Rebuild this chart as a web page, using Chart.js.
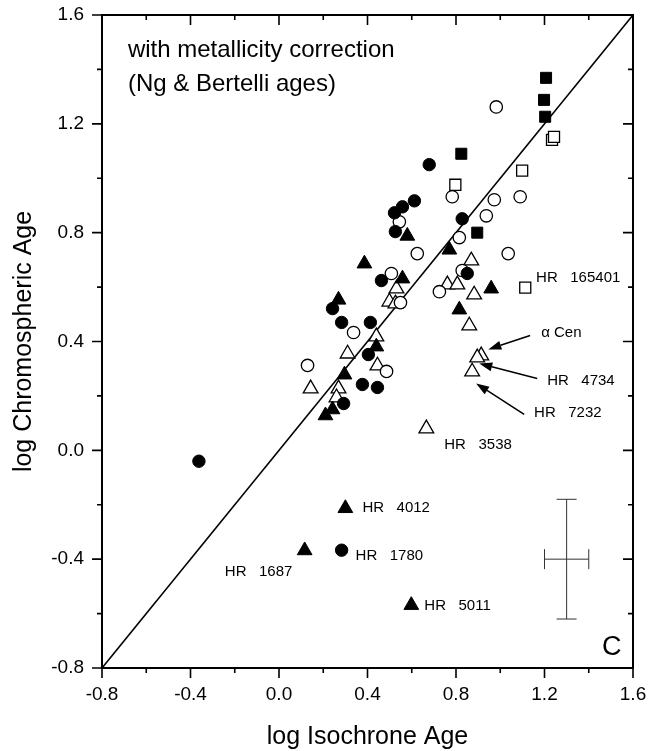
<!DOCTYPE html>
<html>
<head>
<meta charset="utf-8">
<script src="https://cdn.jsdelivr.net/npm/chart.js@4.4.0/dist/chart.umd.min.js"></script>
<style>
  html, body { margin: 0; padding: 0; background: #fff; }
  #wrap { width: 649px; height: 751px; }
</style>
</head>
<body>
<div id="wrap"><canvas id="chart" width="649" height="751"></canvas></div>
<script>
// ─ data points: [log isochrone age, log chromospheric age]
const filledSquares = [[1.207, 1.369], [1.198, 1.288], [1.203, 1.226], [0.824, 1.090], [0.896, 0.800]];
const openSquares = [[1.234, 1.141], [1.243, 1.152], [1.099, 1.028], [0.797, 0.976], [1.113, 0.598]];
const filledCircles = [
    [0.679, 1.050], [0.612, 0.917], [0.558, 0.895], [0.522, 0.873], [0.526, 0.804],
    [0.828, 0.851], [0.463, 0.624], [0.851, 0.650], [0.242, 0.521], [0.283, 0.470],
    [0.413, 0.470], [0.404, 0.352], [0.377, 0.242], [0.445, 0.231], [0.292, 0.172],
    [-0.362, -0.040], [0.283, -0.367]
];
const openCircles = [
    [0.982, 1.262], [0.783, 0.932], [0.973, 0.921], [1.090, 0.932], [0.937, 0.862],
    [0.815, 0.782], [0.544, 0.840], [0.625, 0.723], [1.036, 0.723], [0.508, 0.650],
    [0.828, 0.661], [0.725, 0.583], [0.549, 0.543], [0.337, 0.433], [0.129, 0.312],
    [0.486, 0.290]
];
const filledTriangles = [
    [0.580, 0.788], [0.770, 0.737], [0.386, 0.686], [0.558, 0.631], [0.959, 0.594],
    [0.815, 0.517], [0.269, 0.553], [0.440, 0.381], [0.296, 0.278], [0.242, 0.150],
    [0.210, 0.128], [0.300, -0.213], [0.116, -0.368], [0.598, -0.569]
];
const openTriangles = [
    [0.869, 0.697], [0.761, 0.609], [0.806, 0.609], [0.882, 0.572], [0.860, 0.458],
    [0.914, 0.348], [0.896, 0.341], [0.873, 0.289], [0.531, 0.594], [0.499, 0.546],
    [0.526, 0.539], [0.440, 0.418], [0.310, 0.355], [0.445, 0.311], [0.143, 0.227],
    [0.269, 0.227], [0.260, 0.194], [0.666, 0.080]
];

// y = x reference line
const diagLine = [[-0.8, -0.8], [1.6, 1.6]];

// typical error bar: centre and half widths
const errCenter = [1.30, -0.40];
const errHalf = [0.10, 0.22];

// axis ticks
const axisMin = -0.8;
const axisMax = 1.6;
const majorTicks = [-0.8, -0.4, 0.0, 0.4, 0.8, 1.2, 1.6];
const minorTicks = [-0.6, -0.2, 0.2, 0.6, 1.0, 1.4];

// star labels (data coords of text start / baseline)
const starLabels = [
    { text: 'HR   165401', x: 1.162, y: 0.617 },
    { text: '\u03b1 Cen', x: 1.185, y: 0.418 },
    { text: 'HR   4734', x: 1.212, y: 0.239 },
    { text: 'HR   7232', x: 1.153, y: 0.121 },
    { text: 'HR   3538', x: 0.747, y: 0.004 },
    { text: 'HR   4012', x: 0.377, y: -0.228 },
    { text: 'HR   1780', x: 0.346, y: -0.404 },
    { text: 'HR   1687', x: -0.245, y: -0.462 },
    { text: 'HR   5011', x: 0.657, y: -0.587 }
];

// arrows: tail -> head
const arrows = [
    { from: [1.135, 0.422], to: [0.946, 0.371] },
    { from: [1.167, 0.264], to: [0.905, 0.319] },
    { from: [1.108, 0.132], to: [0.891, 0.246] }
];

const noteLines = ['with metallicity correction', '(Ng & Bertelli ages)'];
const panelLetter = 'C';

const toXY = arr => arr.map(p => ({ x: p[0], y: p[1] }));
const FONT = '"Liberation Sans", Arial, Helvetica, sans-serif';

function markerSet(label, pts, style, filled, radius) {
    return {
        type: 'scatter',
        label,
        data: toXY(pts),
        pointStyle: style,
        pointRadius: radius,
        pointHoverRadius: radius,
        backgroundColor: filled ? '#000' : '#fff',
        borderColor: '#000',
        borderWidth: filled ? 1 : 1.3
    };
}

// ─ frame, ticks, labels and notes
const decorPlugin = {
    id: 'decor',
    afterDatasetsDraw(chart) {
        const { ctx, chartArea: a } = chart;
        const xs = chart.scales.x, ys = chart.scales.y;
        const px = v => xs.getPixelForValue(v);
        const py = v => ys.getPixelForValue(v);

        ctx.save();
        ctx.strokeStyle = '#000';
        ctx.fillStyle = '#000';

        // error bar
        ctx.lineWidth = 1;
        ctx.strokeStyle = '#333';
        const cx = px(errCenter[0]), cy = py(errCenter[1]);
        const x0 = px(errCenter[0] - errHalf[0]), x1 = px(errCenter[0] + errHalf[0]);
        const y0 = py(errCenter[1] + errHalf[1]), y1 = py(errCenter[1] - errHalf[1]);
        const cap = 10;
        ctx.beginPath();
        ctx.moveTo(x0, cy); ctx.lineTo(x1, cy);
        ctx.moveTo(x0, cy - cap); ctx.lineTo(x0, cy + cap);
        ctx.moveTo(x1, cy - cap); ctx.lineTo(x1, cy + cap);
        ctx.moveTo(cx, y0); ctx.lineTo(cx, y1);
        ctx.moveTo(cx - cap, y0); ctx.lineTo(cx + cap, y0);
        ctx.moveTo(cx - cap, y1); ctx.lineTo(cx + cap, y1);
        ctx.stroke();

        // arrows
        ctx.strokeStyle = '#000';
        ctx.lineWidth = 1.5;
        arrows.forEach(ar => {
            const tx = px(ar.from[0]), ty = py(ar.from[1]);
            const hx = px(ar.to[0]), hy = py(ar.to[1]);
            const ang = Math.atan2(hy - ty, hx - tx);
            const len = 13, half = 4.5;
            const bx = hx - Math.cos(ang) * len, by = hy - Math.sin(ang) * len;
            ctx.beginPath();
            ctx.moveTo(tx, ty); ctx.lineTo(bx, by);
            ctx.stroke();
            ctx.beginPath();
            ctx.moveTo(hx, hy);
            ctx.lineTo(bx + Math.sin(ang) * half, by - Math.cos(ang) * half);
            ctx.lineTo(bx - Math.sin(ang) * half, by + Math.cos(ang) * half);
            ctx.closePath();
            ctx.fill();
        });

        // frame
        ctx.lineWidth = 2;
        ctx.strokeRect(a.left, a.top, a.right - a.left, a.bottom - a.top);

        // ticks: outward on bottom/left, inward on top/right
        const tick = (v, len) => {
            const x = px(v), y = py(v);
            ctx.beginPath();
            ctx.moveTo(x, a.bottom); ctx.lineTo(x, a.bottom + len);
            ctx.moveTo(x, a.top); ctx.lineTo(x, a.top + len);
            ctx.moveTo(a.left, y); ctx.lineTo(a.left - len, y);
            ctx.moveTo(a.right, y); ctx.lineTo(a.right - len, y);
            ctx.stroke();
        };
        ctx.lineWidth = 1.6;
        majorTicks.forEach(v => tick(v, 10));
        minorTicks.forEach(v => tick(v, 5));

        // tick labels
        ctx.font = '19px ' + FONT;
        ctx.textAlign = 'center';
        ctx.textBaseline = 'top';
        majorTicks.forEach(v => ctx.fillText(v.toFixed(1), px(v), a.bottom + 17));
        ctx.textAlign = 'right';
        ctx.textBaseline = 'middle';
        majorTicks.forEach(v => ctx.fillText(v.toFixed(1), a.left - 18, py(v)));

        // axis titles
        ctx.font = '25px ' + FONT;
        ctx.textAlign = 'center';
        ctx.textBaseline = 'alphabetic';
        ctx.fillText('log Isochrone Age', (a.left + a.right) / 2, 744);
        ctx.save();
        ctx.translate(31, (a.top + a.bottom) / 2);
        ctx.rotate(-Math.PI / 2);
        ctx.fillText('log Chromospheric Age', 0, 0);
        ctx.restore();

        // notes
        ctx.textAlign = 'left';
        ctx.font = '24px ' + FONT;
        ctx.fillText(noteLines[0], px(-0.683), py(1.446));
        ctx.fillText(noteLines[1], px(-0.683), py(1.321));

        ctx.font = '15px ' + FONT;
        starLabels.forEach(l => ctx.fillText(l.text, px(l.x), py(l.y)));

        ctx.font = '27px ' + FONT;
        ctx.fillText(panelLetter, px(1.46), py(-0.752));

        ctx.restore();
    }
};

// ─ chart
function initChart() {
    const ctx = document.getElementById('chart').getContext('2d');
    new Chart(ctx, {
        data: {
            datasets: [
                markerSet('filled squares', filledSquares, 'rect', true, 7.8),
                markerSet('filled circles', filledCircles, 'circle', true, 6.2),
                markerSet('filled triangles', filledTriangles, 'triangle', true, 8.5),
                markerSet('open squares', openSquares, 'rect', false, 7.8),
                markerSet('open circles', openCircles, 'circle', false, 6.2),
                markerSet('open triangles', openTriangles, 'triangle', false, 8.5),
                {
                    type: 'line',
                    label: 'y = x',
                    data: toXY(diagLine),
                    borderColor: '#000',
                    borderWidth: 1.6,
                    pointRadius: 0,
                    fill: false,
                    tension: 0
                }
            ]
        },
        options: {
            responsive: false,
            animation: false,
            layout: { padding: { left: 102, right: 16, top: 15, bottom: 83 } },
            plugins: { legend: { display: false }, tooltip: { enabled: false } },
            scales: {
                x: { type: 'linear', min: axisMin, max: axisMax, display: false },
                y: { type: 'linear', min: axisMin, max: axisMax, display: false }
            }
        },
        plugins: [decorPlugin]
    });
}

document.addEventListener('DOMContentLoaded', initChart);
</script>
</body>
</html>
